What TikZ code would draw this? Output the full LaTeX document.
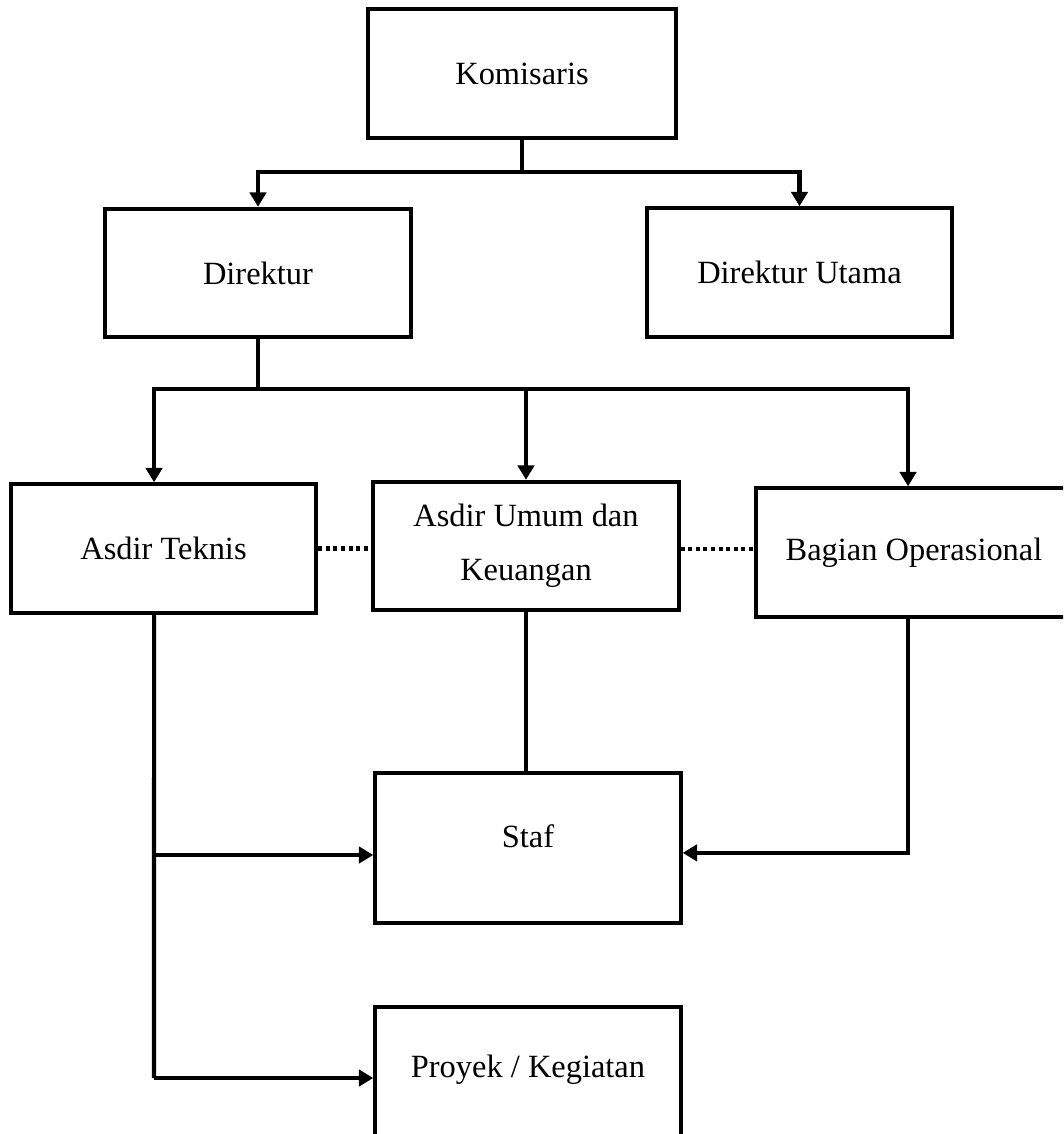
\documentclass[tikz,border=0pt]{standalone}
\usepackage{fontspec}
\setmainfont{Liberation Serif}
\usetikzlibrary{arrows.meta}

\begin{document}
\begin{tikzpicture}[x=0.37pt, y=-0.37pt,
	box/.style={draw, line width=1.5pt, minimum width=113pt, minimum height=47.5pt, font=\fontsize{12}{14}\selectfont},
	link/.style={line width=1.5pt},
	arr/.style={line width=1.5pt, -{Triangle[length=5.3pt,width=6pt]}},
	dots/.style={line width=1.5pt, dash pattern=on 1.5pt off 1.3pt}]
	\useasboundingbox (0,0) rectangle (1063,1134);
	\clip (0,0) rectangle (1063,1134);
	
	% Boxes
	\node[box, minimum width=114pt] (kom) at (522,73.5) {Komisaris};
	\node[box] (dir) at (258,273) {Direktur};
	\node[box] (dirut) at (799.5,272.5) {Direktur Utama};
	\node[box] (teknis) at (163.5,548.5) {Asdir Teknis};
	\node[box, align=center, font=\fontsize{12}{20}\selectfont] (umum) at (526,546) {Asdir Umum dan\\Keuangan};
	\node[box, minimum width=117pt] (ops) at (914,552.5) {Bagian Operasional};
	\node[box, minimum height=55.5pt, text depth=9pt] (staf) at (528,848) {Staf};
	\node[box, minimum height=55.5pt, text depth=12pt] (proyek) at (528,1082) {Proyek / Kegiatan};
	
	% joints
	\coordinate (j1) at (522,172);
	\coordinate (j2) at (258,389);
	\coordinate (t1) at (154,855);
	\coordinate (t2) at (154,1078);
	
	% top level
	\draw[arr] (kom.south) -- (j1) -| (dir.north);
	\draw[arr] (j1) -| (dirut.north);
	
	% second level
	\draw[link] (dir.south) -- (j2);
	\draw[arr] (j2) -| ([xshift=-3.5pt]teknis.north);
	\draw[arr] (j2) -| (umum.north);
	\draw[arr] (j2) -| ([xshift=-2.2pt]ops.north);
	
	% dotted links
	\draw[dots] (teknis.east) -- (teknis.east -| umum.west);
	\draw[dots] ([yshift=-1pt]umum.east) -- ([yshift=-1pt]umum.east -| ops.west);
	
	% lower part
	\draw[link] ([xshift=-3.5pt]teknis.south) -- (t2);
	\draw[arr] (t1) -- (t1 -| staf.west);
	\draw[arr] (t2) -- (t2 -| proyek.west);
	\draw[link] (umum.south) -- (umum.south |- staf.north);
	\draw[arr] ([xshift=-2.2pt]ops.south) |- ([yshift=-1.8pt]staf.east);
	
\end{tikzpicture}
\end{document}
